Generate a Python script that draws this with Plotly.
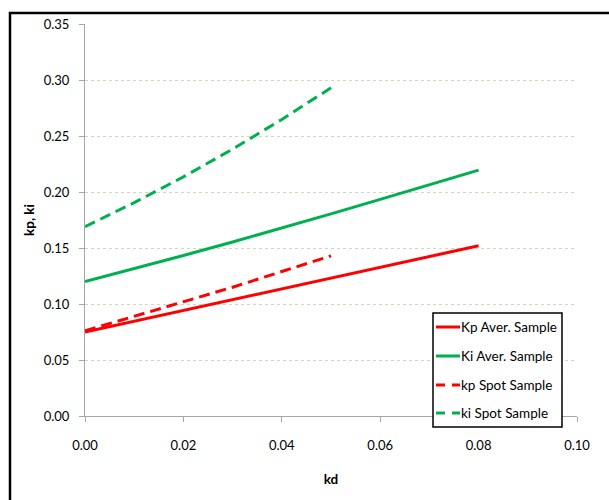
import plotly.graph_objects as go

# kd values and tuned gains
kd_aver = [0.00, 0.01, 0.02, 0.03, 0.04, 0.05, 0.06, 0.07, 0.08]
kp_aver = [0.075, 0.0846, 0.0942, 0.1038, 0.1134, 0.1230, 0.1327, 0.1423, 0.152]
ki_aver = [0.120, 0.1315, 0.1433, 0.1554, 0.1678, 0.1805, 0.1934, 0.2065, 0.2195]

kd_spot = [0.00, 0.01, 0.02, 0.03, 0.04, 0.05]
kp_spot = [0.076, 0.089, 0.102, 0.115, 0.129, 0.143]
ki_spot = [0.169, 0.1905, 0.2135, 0.2383, 0.2648, 0.293]

x_ticks = [0.00, 0.02, 0.04, 0.06, 0.08, 0.10]
y_ticks = [0.00, 0.05, 0.10, 0.15, 0.20, 0.25, 0.30, 0.35]

RED = "#ff0000"
GREEN = "#00b050"
FONT = "Lato"
DASH = "11px,6px"

# plot area in pixels: x 85..577, y 24..416
def px(x):
    return (x - 85) / 492.0

def py(y):
    return (416 - y) / 392.0

fig = go.Figure()
series = [
    ("Kp Aver. Sample", kd_aver, kp_aver, RED, "solid"),
    ("Ki Aver. Sample", kd_aver, ki_aver, GREEN, "solid"),
    ("kp Spot Sample", kd_spot, kp_spot, RED, DASH),
    ("ki Spot Sample", kd_spot, ki_spot, GREEN, DASH),
]
for name, xs, ys, color, dash in series:
    fig.add_trace(go.Scatter(
        x=xs, y=ys, mode="lines", name=name, showlegend=False,
        line=dict(color=color, width=3, dash=dash),
    ))

axis_common = dict(
    showline=True, linecolor="#a6a6a6", linewidth=1,
    ticks="outside", tickcolor="#a6a6a6", ticklen=5,
    tickfont=dict(family=FONT, size=13, color="#000000"),
    zeroline=False, tickformat=".2f",
)

fig.update_xaxes(
    range=[0, 0.10], tickvals=x_ticks, showgrid=False, ticklabelstandoff=12,
    title=dict(text="<b>kd</b>", font=dict(family=FONT, size=13.5, color="#000"), standoff=22),
    **axis_common,
)
fig.update_yaxes(
    range=[0, 0.35], tickvals=y_ticks, showgrid=True,
    gridcolor="#d9d4b4", griddash="dot", gridwidth=1, ticklabelstandoff=7,
    title=dict(text="<b>kp, ki</b>", font=dict(family=FONT, size=13.5, color="#000"), standoff=5),
    **axis_common,
)

# outer chart frame
fig.add_shape(type="rect", xref="paper", yref="paper",
              x0=px(10), y0=py(540), x1=px(630), y1=py(13),
              line=dict(color="#000000", width=2.5), layer="above")

# legend box with line samples and labels
fig.add_shape(type="rect", xref="paper", yref="paper",
              x0=px(433), y0=py(427), x1=px(562), y1=py(313),
              fillcolor="white", line=dict(color="#000000", width=1.5), layer="above")
item_y = [327, 356, 385, 413]
for (name, _, _, color, dash), yy in zip(series, item_y):
    fig.add_shape(type="line", xref="paper", yref="paper",
                  x0=px(436), x1=px(460), y0=py(yy), y1=py(yy),
                  line=dict(color=color, width=3, dash="9px,7px" if dash != "solid" else "solid"),
                  layer="above")
    fig.add_annotation(xref="paper", yref="paper", x=px(459), y=py(yy),
                       xanchor="left", yanchor="middle", showarrow=False,
                       text=name, font=dict(family=FONT, size=13.5, color="#000"))

fig.update_layout(
    width=609, height=500,
    margin=dict(l=85, r=32, t=24, b=84),
    paper_bgcolor="white", plot_bgcolor="white",
    font=dict(family=FONT),
    showlegend=False,
)

fig.write_html("out.html")
